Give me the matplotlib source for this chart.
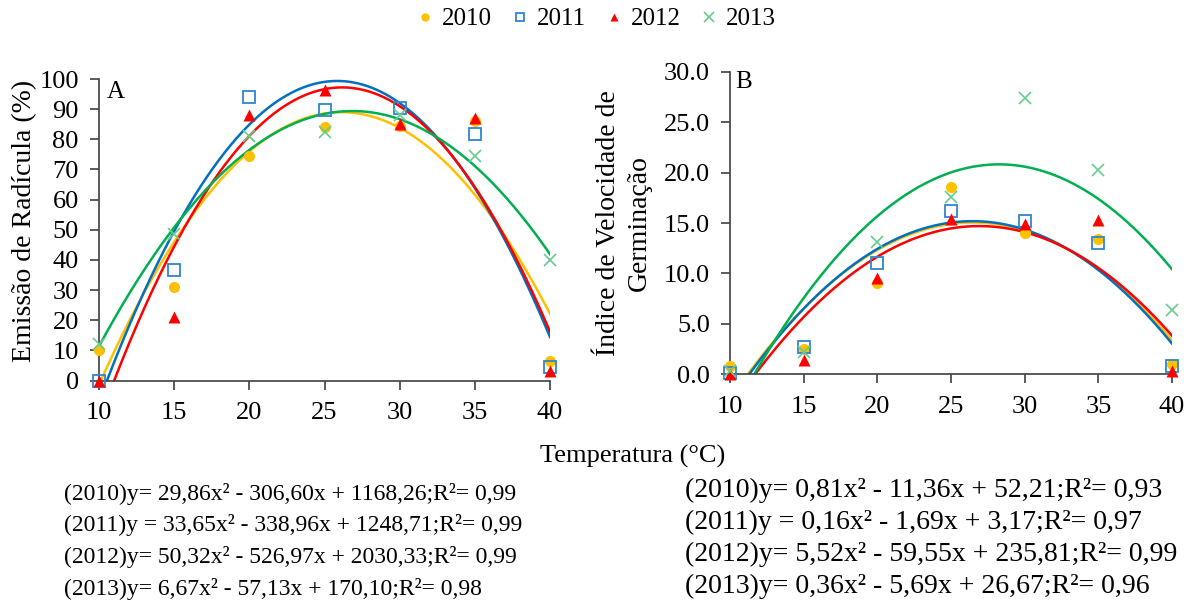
import numpy as np
import matplotlib
matplotlib.use("Agg")
import matplotlib.pyplot as plt

plt.rcParams['font.family'] = ['Liberation Serif', 'DejaVu Serif']

# temperature levels (°C)
temps = [10, 15, 20, 25, 30, 35, 40]
years = ['2010', '2011', '2012', '2013']

# radicle emission (%) per year - panel A
emissao_2010 = [10.0, 31.0, 74.5, 84.0, 84.5, 86.0, 6.6]
emissao_2011 = [0.0, 36.5, 94.0, 89.6, 90.5, 81.7, 4.4]
emissao_2012 = [0.0, 21.0, 88.0, 96.2, 85.0, 87.0, 3.0]
emissao_2013 = [12.0, 48.7, 81.0, 82.5, 88.0, 74.5, 40.0]

# germination speed index per year - panel B
ivg_2010 = [0.8, 2.5, 9.1, 18.6, 14.0, 13.4, 1.0]
ivg_2011 = [0.1, 2.7, 11.0, 16.2, 15.2, 13.0, 0.8]
ivg_2012 = [0.0, 1.4, 9.5, 15.4, 14.9, 15.3, 0.3]
ivg_2013 = [0.3, 2.2, 13.1, 17.6, 27.4, 20.3, 6.4]

eq_a = ['(2010)y= 29,86x² - 306,60x + 1168,26;R²= 0,99',
        '(2011)y = 33,65x² - 338,96x + 1248,71;R²= 0,99',
        '(2012)y= 50,32x² - 526,97x + 2030,33;R²= 0,99',
        '(2013)y= 6,67x² - 57,13x + 170,10;R²= 0,98']
eq_b = ['(2010)y= 0,81x² - 11,36x + 52,21;R²= 0,93',
        '(2011)y = 0,16x² - 1,69x + 3,17;R²= 0,97',
        '(2012)y= 5,52x² - 59,55x + 235,81;R²= 0,99',
        '(2013)y= 0,36x² - 5,69x + 26,67;R²= 0,96']

line_colors = ['#FFC000', '#0070C0', '#FF0000', '#00B050']
marker_styles = [
    dict(marker='o', color='#FFC000', ms=8, mec='none'),
    dict(marker='s', mfc='none', mec='#2E86D0', ms=8, mew=1.3),
    dict(marker='^', color='#FF0000', ms=8, mec='none'),
    dict(marker='x', color='#66CC8F', ms=9, mew=1.2),
]

W, H = 1190, 610
fig = plt.figure(figsize=(W / 100, H / 100), dpi=100)
axA = fig.add_axes([99 / W, 1 - 380.5 / H, (550 - 99) / W, (380.5 - 79) / H])
axB = fig.add_axes([730 / W, 1 - 374.3 / H, (1172 - 730) / W, (374.3 - 71.7) / H])

xs = np.linspace(10, 40, 300)


def draw_panel(ax, series, ylim, yticks, fmt):
    # quadratic trend line for every year, then the measured points on top
    for vals, lc in zip(series, line_colors):
        coef = np.polyfit(temps, vals, 2)
        ax.plot(xs, np.polyval(coef, xs), color=lc, lw=1.8, zorder=2)
    for vals, ms, yr in zip(series, marker_styles, years):
        ax.plot(temps, vals, ls='none', label=yr, clip_on=False, zorder=3, **ms)
    ax.set_xlim(10, 40)
    ax.set_ylim(*ylim)
    ax.set_yticks(yticks)
    ax.set_yticklabels([fmt.format(v) for v in yticks])
    ax.set_xticks(temps)
    for s in ['top', 'right']:
        ax.spines[s].set_visible(False)
    for s in ['left', 'bottom']:
        ax.spines[s].set_color('#404040')
        ax.spines[s].set_linewidth(1.2)
    ax.tick_params(direction='out', length=6.5, width=1.2, color='#404040',
                   labelsize=19, pad=8)
    ax.tick_params(axis='x', pad=9)


draw_panel(axA, [emissao_2010, emissao_2011, emissao_2012, emissao_2013],
           (0, 100), list(range(0, 101, 10)), '{:d}')
axA.set_ylabel('Emissão de Radícula (%)', fontsize=20)
axA.yaxis.set_label_coords(-0.137, 0.53)

draw_panel(axB, [ivg_2010, ivg_2011, ivg_2012, ivg_2013],
           (0, 30), [0, 5, 10, 15, 20, 25, 30], '{:.1f}')
axB.set_ylabel('Índice de Velocidade de\nGerminação', fontsize=20,
               linespacing=1.3)
axB.yaxis.set_label_coords(-0.1765, 0.50)

# panel letters
fig.text(116 / W, 1 - 92 / H, 'A', fontsize=18, ha='center', va='center')
fig.text(744 / W, 1 - 82 / H, 'B', fontsize=18, ha='center', va='center')

fig.text(633 / W, 1 - 456 / H, 'Temperatura (°C)', fontsize=19,
         ha='center', va='center')

# regression equations under each panel
for i, (ea, eb) in enumerate(zip(eq_a, eq_b)):
    fig.text(64 / W, 1 - (494 + i * 31.5) / H, ea, fontsize=17, va='center')
    fig.text(685 / W, 1 - (490 + i * 32) / H, eb, fontsize=20, va='center')

handles, labels = axA.get_legend_handles_labels()
fig.legend(handles, labels, loc='center', bbox_to_anchor=(596 / W, 1 - 19 / H),
           ncol=4, frameon=False, fontsize=18, handletextpad=0.3,
           columnspacing=0.8, handlelength=0.7, markerscale=0.75)

fig.savefig('out.png', dpi=100)
